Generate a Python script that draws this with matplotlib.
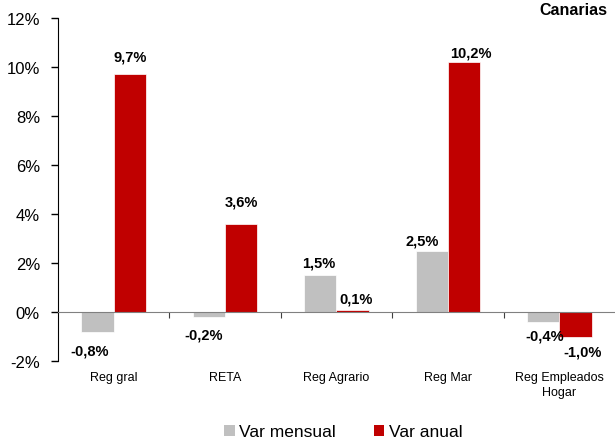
import numpy as np
import matplotlib.pyplot as plt
from matplotlib.patches import Patch

plt.rcParams['font.family'] = ['Liberation Sans', 'DejaVu Sans']

# Data
categories = ['Reg gral', 'RETA', 'Reg Agrario', 'Reg Mar', 'Reg Empleados\nHogar']
var_mensual = [-0.8, -0.2, 1.5, 2.5, -0.4]
var_anual = [9.7, 3.6, 0.1, 10.2, -1.0]

# label nudges in pixels (dx, dy from bar end to label centre)
nudge_mensual = [(-8, -19), (-5, -18), (-2, 13), (-10, 10), (2, -14)]
nudge_anual = [(0, 18), (0, 22), (3, 11), (7, 10), (7, -15)]

gray = '#C0C0C0'
red = '#C00000'

fig = plt.figure(figsize=(6.15, 4.39), dpi=100)
ax = fig.add_axes([0.0943, 0.1754, 0.9057, 0.7813])

x = np.arange(len(categories))
w = 0.29
ax.bar(x - w / 2, var_mensual, w, color=gray, edgecolor='white', linewidth=0.5)
ax.bar(x + w / 2, var_anual, w, color=red, edgecolor='white', linewidth=0.5)

ax.set_xlim(-0.5, len(categories) - 0.5)
ax.set_ylim(-2, 12)
ax.set_yticks(np.arange(-2, 13, 2))
ax.set_yticklabels([f'{v}%' for v in range(-2, 13, 2)], fontsize=12)
ax.tick_params(axis='y', direction='out', length=5, width=1, pad=8)

# zero line as bottom spine, ticks at category boundaries
ax.spines['bottom'].set_position(('data', 0))
ax.spines['bottom'].set_color('#808080')
ax.spines['top'].set_visible(False)
ax.spines['right'].set_visible(False)
ax.set_xticks(np.arange(0.5, len(categories) - 0.5, 1))
ax.set_xticklabels([])
ax.tick_params(axis='x', direction='out', length=4, color='#404040')

for i, c in enumerate(categories):
    ax.annotate(c, xy=(i, 0), xycoords=('data', 'axes fraction'),
                xytext=(0, -10), textcoords='offset pixels',
                ha='center', va='top', fontsize=9, linespacing=1.35)

def fmt(v):
    return f'{v:.1f}%'.replace('.', ',')

for i in range(len(categories)):
    for vals, nud, off in ((var_mensual, nudge_mensual, -w / 2), (var_anual, nudge_anual, w / 2)):
        v = vals[i]
        ax.annotate(fmt(v), xy=(i + off, v), xytext=nud[i], textcoords='offset pixels',
                    ha='center', va='center', fontsize=10.5, fontweight='bold')

fig.text(0.988, 0.975, 'Canarias', ha='right', va='center', fontsize=11.5, fontweight='bold')

handles = [Patch(facecolor=gray, label='Var mensual'), Patch(facecolor=red, label='Var anual')]
fig.legend(handles=handles, loc='center', bbox_to_anchor=(0.558, 0.014), ncol=2, frameon=False,
           fontsize=12.5, handlelength=0.6, handleheight=0.6, handletextpad=0.25, columnspacing=2.2)

plt.savefig('out.png', dpi=100)
